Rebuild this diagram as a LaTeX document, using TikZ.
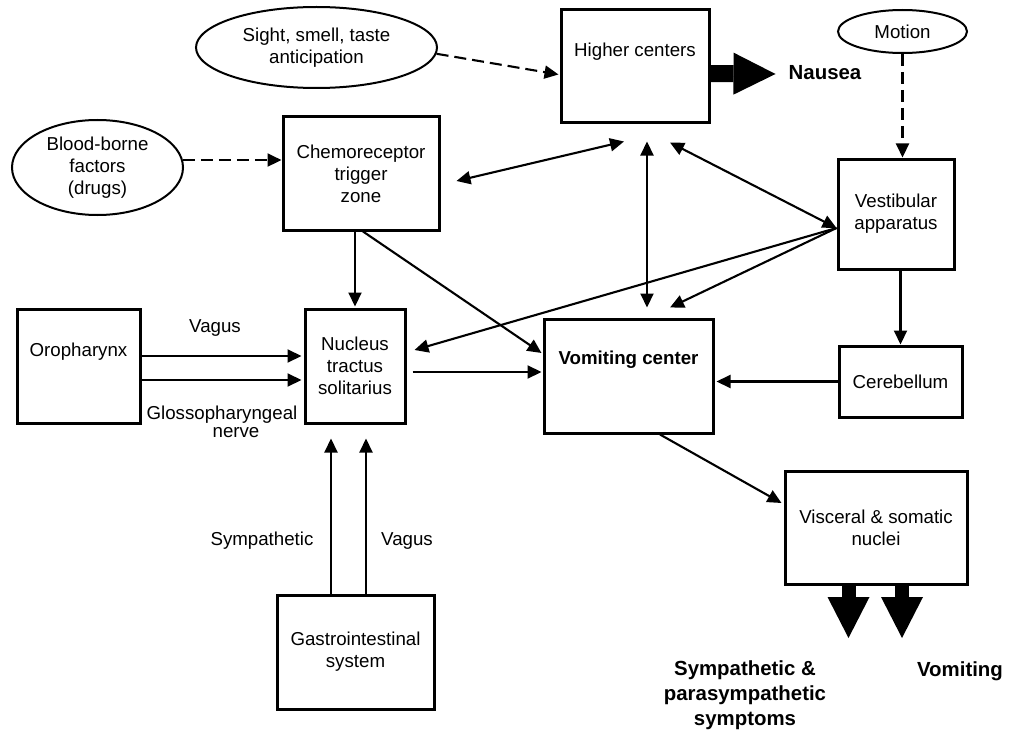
\documentclass[tikz,border=0pt]{standalone}
\usepackage{fontspec}
\setmainfont{Liberation Sans}
\usetikzlibrary{shapes.geometric,arrows.meta,calc}

\begin{document}
\begin{tikzpicture}
		[x=1pt, y=-1pt,
		every node/.style={inner sep=0pt, align=center, font=\fontsize{18.7}{22}\selectfont},
		box/.style={draw, rectangle, line width=3pt},
		oval/.style={draw, ellipse, line width=2pt},
		conn/.style={line width=2.1pt, -{Triangle[length=14pt, width=13pt]}},
		biconn/.style={line width=2.1pt, {Triangle[length=14pt, width=13pt]}-{Triangle[length=14pt, width=13pt]}},
		dashconn/.style={conn, dash pattern=on 12pt off 6pt},
		fat/.style={line width=14pt, -{Triangle[length=41pt, width=42pt, line width=0pt]}},
		result/.style={font=\fontsize{20.4}{25}\selectfont\bfseries}]
		\useasboundingbox (0,0) rectangle (1017,733);
		
		\node[oval, minimum width=241pt, minimum height=81pt] (sight) at (316.5,47.5) {Sight, smell, taste\\anticipation};
		\node[oval, minimum width=171pt, minimum height=95pt] (blood) at (97.5,167.5) {Blood-borne\\factors\\(drugs)};
		\node[oval, minimum width=129pt, minimum height=43pt] (motion) at (902.5,31.5) {Motion};
		
		\node[box, minimum width=148pt, minimum height=113pt, text depth=33pt] (hc) at (635,66.5) {Higher centers};
		\node[box, minimum width=156pt, minimum height=113pt] (ctz) at (361,173.5) {Chemoreceptor\\trigger\\zone};
		\node[box, minimum width=116pt, minimum height=110pt] (vest) at (896,214) {Vestibular\\apparatus};
		\node[box, minimum width=123pt, minimum height=71pt] (cer) at (900.5,381.5) {Cerebellum};
		\node[box, minimum width=169pt, minimum height=114pt, text depth=37pt, font=\fontsize{18.7}{22}\selectfont\bfseries] (vc) at (628.5,376) {Vomiting center};
		\node[box, minimum width=100pt, minimum height=114pt] (nts) at (355,366) {Nucleus\\tractus\\solitarius};
		\node[box, minimum width=123pt, minimum height=114pt, text depth=33pt] (oro) at (78.5,366) {Oropharynx};
		\node[box, minimum width=157pt, minimum height=114pt] (gi) at (355.5,652) {Gastrointestinal\\system};
		\node[box, minimum width=182pt, minimum height=113pt] (vis) at (876,527.5) {Visceral \& somatic\\nuclei};
		
		\node (vagusoro) at (215,328) {Vagus};
		\node (glosso) at (222,415) {Glossopharyngeal};
		\node (nerve) at (236,433) {nerve};
		\node (symp) at (262,541) {Sympathetic};
		\node (vagusgi) at (407,541) {Vagus};
		\node[result] (nausea) at (825,73) {Nausea};
		\node[result] (symptoms) at (745,695) {Sympathetic \&\\parasympathetic\\symptoms};
		\node[result] (vomiting) at (960,671) {Vomiting};
		
		\coordinate (vin) at ($(vest.west)+(0,14)$);
		\coordinate (symtip) at (848.5,638);
		\coordinate (vomtip) at (902,638);
		
		\draw[dashconn] (sight.-3) -- ($(hc.west)+(-1,8)$);
		\draw[dashconn] (blood.5) -- (blood.5 -| ctz.west);
		\draw[dashconn] (motion.south) -- (motion.south |- vest.north);
		
		\draw[biconn] ($(ctz.east)+(16,7.5)$) -- ($(hc.south)+(-11,17)$);
		\draw[biconn] ($(hc.south)+(12,17)$) -- ($(vc.north)+(18.5,-10)$);
		\draw[biconn] ($(hc.south)+(35,18)$) -- (vin);
		\draw[conn] (vin) -- ($(vc.north)+(41.5,-10)$);
		\draw[conn] (vin) -- ($(nts.east)+(8,-16)$);
		\draw[conn] (vest.south -| cer.north) -- (cer.north);
		\draw[conn] (cer.west) -- ($(cer.west -| vc.east)+(2,0)$);
		\draw[conn] (nts.north |- ctz.south) -- ($(nts.north)+(0,-1)$);
		\draw[conn] ($(ctz.south)+(2,0)$) -- ($(vc.west)+(-1,-23)$);
		\draw[conn] ($(nts.east)+(6,6)$) -- ($(vc.west)+(-1,-4)$);
		\draw[conn] ($(oro.east)+(0,-10)$) -- ($(nts.west)+(-2,-10)$);
		\draw[conn] ($(oro.east)+(0,14)$) -- ($(nts.west)+(-2,14)$);
		\draw[conn] ($(gi.north)+(-24.5,0)$) -- ($(nts.south)+(-24,14)$);
		\draw[conn] ($(gi.north)+(10.5,0)$) -- ($(nts.south)+(11,14)$);
		\draw[conn] ($(vc.south)+(31.5,0)$) -- ($(vis.west)+(-2,-24.5)$);
		
		\draw[fat, line width=17pt, -{Triangle[length=42pt, width=42pt, line width=0pt]}] ($(hc.east)+(0,7)$) -- ($(nausea.west)+(-13,1)$);
		\draw[fat] ($(vis.south)+(-27.5,0)$) -- (symtip);
		\draw[fat] ($(vis.south)+(26,0)$) -- (vomtip);
		\end{tikzpicture}
\end{document}
